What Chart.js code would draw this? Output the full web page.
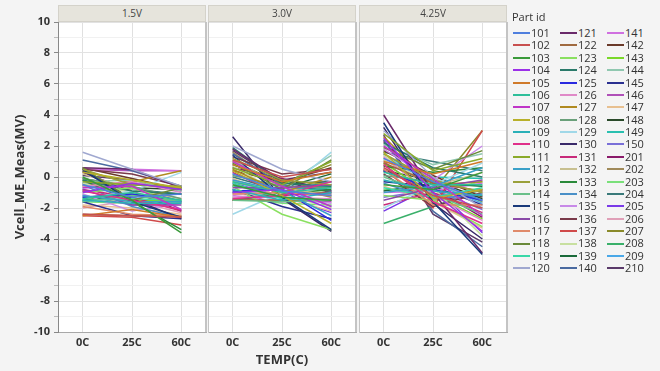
<!DOCTYPE html>
<html>
<head>
<meta charset="utf-8">
<script src="https://cdn.jsdelivr.net/npm/chart.js@4.4.1/dist/chart.umd.min.js"></script>
<style>
  body { margin: 0; background: #f4f4f4; font-family: "Open Sans", sans-serif; }
  #wrap { position: relative; width: 660px; height: 371px; overflow: hidden; }
  .panel { position: absolute; top: 0; }
  .strip { position: absolute; top: 5px; height: 17px; background: #e6e4dc; border: 1px solid #d4d2ca;
           box-sizing: border-box; font-size: 10px; color: #444; text-align: center; line-height: 15px; }
  .leg-title { position: absolute; left: 512px; top: 9px; font-size: 11px; color: #333; }
  .leg-item { position: absolute; font-size: 11px; color: #333; line-height: 12px; }
  .leg-item span { display: inline-block; width: 17px; height: 2px; vertical-align: middle; margin-right: 1px; position: relative; top: -1px; }
</style>
</head>
<body>
<div id="wrap">
  <canvas class="panel" id="p1" width="207" height="371" style="left:0px"></canvas>
  <canvas class="panel" id="p2" width="150" height="371" style="left:207px"></canvas>
  <canvas class="panel" id="p3" width="150" height="371" style="left:358px"></canvas>
  <div class="strip" style="left:58px;width:148px">1.5V</div>
  <div class="strip" style="left:208px;width:148px">3.0V</div>
  <div class="strip" style="left:359px;width:148px">4.25V</div>
  <div class="leg-title">Part id</div>
  <div id="legend"></div>
</div>
<script>
// x categories and the three Vcell panels
const temps = ['0C', '25C', '60C'];
const panels = ['1.5V', '3.0V', '4.25V'];

const partIds = [
  '101','102','103','104','105','106','107','108','109','110',
  '111','112','113','114','115','116','117','118','119','120',
  '121','122','123','124','125','126','127','128','129','130',
  '131','132','133','134','135','136','137','138','139','140',
  '141','142','143','144','145','146','147','148','149','150',
  '201','202','203','204','205','206','207','208','209','210'
];

// 1.5V panel values (one per part id)
const v15_0C = [-0.5,-2.4,0.0,-1.0,-2.5,-1.4,-0.7,0.3,-1.5,-0.9,
  -0.3,-1.2,0.5,-1.6,0.5,-0.8,-1.9,0.6,-1.5,1.6,
  0.6,-2.4,-1.0,-0.2,-1.3,-0.6,-0.6,-0.1,-1.4,0.4,
  -0.8,0.2,-0.2,-0.5,-1.1,0.5,-2.5,-0.4,-1.5,1.1,
  0.5,0.6,-1.4,-0.3,-1.6,0.5,-1.8,-0.1,-0.4,-1.2,
  0.3,-0.5,-1.6,-0.9,-0.4,-2.0,0.4,-1.3,-0.7,0.1];
const v15_25C = [-1.3,-2.5,-1.5,-0.4,-2.1,-1.0,-0.6,-0.2,-1.7,-1.5,
  -0.5,-1.6,-0.5,-1.2,-1.6,-1.8,-2.4,-1.5,-1.4,0.5,
  0.5,-2.5,-0.7,-0.9,-1.1,-0.3,-0.3,-0.6,-0.9,-1.4,
  -1.3,-0.8,-1.6,-1.9,-2.2,0.2,-2.6,-1.0,-1.2,0.4,
  0.5,-0.1,-1.5,-0.2,-2.5,0.4,-2.0,-0.7,-1.2,-1.8,
  -0.9,-0.4,-1.7,-0.8,-0.6,-1.5,-0.4,-1.1,-0.5,-0.2];
const v15_60C = [-1.1,-2.6,-3.6,-0.8,-2.6,-1.5,-2.1,-0.7,-1.7,-2.1,
  -0.7,-1.6,-0.6,-1.6,-2.6,-1.8,-2.5,-0.7,-1.5,-0.6,
  -0.7,-2.5,-1.7,-1.1,-1.6,-1.0,0.4,-1.4,0.3,-2.7,
  -2.2,-1.4,-3.4,-2.6,-1.7,-0.6,-3.1,-1.6,-1.1,-0.6,
  0.4,-0.8,-1.5,-0.9,-2.7,0.4,-2.4,-0.8,-1.5,-1.7,
  -2.2,-0.7,-1.6,-1.1,-1.6,-2.3,-0.7,-1.6,-0.6,-0.9];

// 3.0V panel values
const v30_0C = [0.2,1.1,-0.5,-1.0,0.8,-0.3,1.0,0.4,-0.8,-1.4,
  0.6,-0.2,1.2,-1.5,1.4,-0.7,-1.1,0.9,-0.4,2.0,
  1.8,-1.5,-0.6,1.9,-0.9,-1.3,0.5,0.1,-2.4,2.6,
  0.3,1.0,-1.5,-0.6,-0.2,1.3,-1.5,0.7,-1.0,1.5,
  -1.2,0.4,-0.3,1.1,-0.8,-1.5,-0.1,0.8,-0.6,-1.0,
  0.6,1.6,-1.3,0.0,-0.4,-1.1,1.0,-1.4,0.2,1.7];
const v30_25C = [-0.9,0.0,-1.3,-0.8,-0.3,-1.0,-0.6,-1.2,-1.5,-1.2,
  -0.5,-0.9,-0.2,-1.6,-1.3,-0.7,-1.0,-0.8,-1.4,0.5,
  -0.2,-1.5,-2.4,-0.4,-0.8,-1.3,-1.0,-0.6,-1.0,-1.4,
  -1.2,-0.7,-1.1,-0.9,-1.4,0.2,-1.5,-1.1,-0.7,-0.5,
  -1.6,-0.3,-1.0,-0.6,-1.9,-1.5,-1.3,-0.4,-0.8,-1.1,
  -0.1,-0.6,-1.7,-0.9,-1.2,-1.3,-0.4,-1.0,-0.7,-0.3];
const v30_60C = [-1.2,0.5,-1.5,-2.1,0.3,-0.7,-1.9,-3.0,-1.0,-0.3,
  1.0,-2.5,-0.5,-1.5,-3.4,-0.5,-1.2,1.1,-1.5,-0.3,
  0.3,-1.5,-3.4,-0.6,-2.8,-1.5,0.0,-0.7,1.6,-3.5,
  -1.0,-1.2,-0.8,-0.3,-1.7,0.5,-1.5,-2.0,0.2,-0.9,
  -1.4,0.6,-1.0,1.4,-2.7,-1.6,-2.2,-0.3,-0.6,-1.1,
  -0.9,-1.3,-1.8,-0.5,-2.3,-1.4,0.8,-1.2,-1.9,-1.0];

// 4.25V panel values
const v425_0C = [1.2,0.6,-0.5,2.5,1.0,0.3,2.0,1.6,-0.2,0.8,
  2.8,-1.0,1.5,0.0,3.5,-1.5,0.5,1.9,-0.7,3.0,
  4.0,0.9,-1.2,2.2,0.4,1.3,2.6,0.1,-2.0,3.2,
  -1.8,1.1,0.7,-0.4,1.8,0.2,0.5,1.4,-0.9,2.4,
  -1.0,1.7,0.9,2.1,-0.3,1.0,-0.6,0.4,1.2,-1.3,
  2.3,0.8,-0.8,1.6,-2.2,0.6,0.4,-3.0,1.5,2.7];
const v425_25C = [-0.3,-1.2,-0.8,-1.0,0.2,-0.5,-0.1,-1.4,-0.9,-1.6,
  0.4,-0.6,-0.2,-1.1,-1.6,-0.7,-1.8,0.5,-1.3,0.0,
  -1.0,-0.4,-1.5,0.6,-0.8,-1.2,-0.5,-0.3,-0.5,-1.7,
  -1.0,-0.6,0.3,-1.4,-0.2,-1.9,-2.0,-0.7,-0.4,-2.2,
  -0.9,0.1,-1.1,0.8,-0.6,-1.3,-1.6,-0.2,0.0,-0.8,
  -0.7,-1.5,-0.9,1.0,-0.6,-1.1,-0.9,-1.9,-0.4,-2.4];
const v425_60C = [-1.5,-2.0,0.3,-3.5,1.0,-0.5,-2.5,-0.8,-1.2,-3.0,
  1.2,0.6,-1.0,-2.4,-5.0,-0.2,-1.8,1.7,-0.7,-2.0,
  -4.9,-0.9,-3.2,0.0,-1.5,-2.8,-0.3,-1.6,0.9,-4.0,
  -2.3,0.3,0.6,-1.1,2.0,-1.0,3.0,-3.8,-0.6,-4.5,
  -0.4,-1.3,-2.7,1.5,-1.8,-0.8,-3.3,-1.4,-0.1,-2.1,
  -2.6,-1.2,-0.3,0.4,-3.6,-0.9,3.0,-0.8,-1.7,-4.2];

const partColors = [
  '#4f7fde','#c8504f','#3a9a3a','#9b30e8','#d07a2a','#2fbf9a','#c035c8','#b8b02a','#2ab0b8','#e0308a',
  '#8aaa2a','#3aa0c8','#9aa03a','#6ac08a','#1a3a7a','#8a4aa8','#e08a6a','#6a8a3a','#3ad8a8','#a0a8d0',
  '#6a2a6a','#a06a40','#8ae060','#2a7a6a','#2a2ae0','#e08ac8','#b08a20','#6aa07a','#a0d8e8','#3a2a6a',
  '#c82a7a','#c8c090','#2a8a3a','#4a90c8','#c88ae8','#7a3a4a','#d04a4a','#c8e0a0','#1a6a3a','#4a6aa0',
  '#d070e0','#6a3a2a','#7ad82a','#90c8b0','#2a3090','#b050b8','#e8c090','#2a4a2a','#2ac0b0','#7a70d8',
  '#8a1a6a','#a08a5a','#7ae07a','#3a7a7a','#7a3ae8','#e0a0b8','#8a8a2a','#3ab06a','#4aa8e8','#5a3a6a'
];

// white plot area plus panel frame
const panelFrame = {
  id: 'panelFrame',
  beforeDraw(chart) {
    const { ctx, chartArea: a } = chart;
    ctx.save();
    ctx.fillStyle = '#ffffff';
    ctx.fillRect(a.left, a.top, a.right - a.left, a.bottom - a.top);
    ctx.restore();
  },
  afterDraw(chart) {
    const { ctx, chartArea: a } = chart;
    ctx.save();
    ctx.strokeStyle = '#c4c4c4';
    ctx.lineWidth = 2;
    ctx.beginPath();
    ctx.moveTo(a.right, a.top);
    ctx.lineTo(a.right, a.bottom);
    ctx.stroke();
    ctx.restore();
  }
};

function makePanel(id, first, showTitle, v0, v25, v60) {
  const datasets = partIds.map((p, i) => ({
    label: p,
    data: [v0[i], v25[i], v60[i]],
    borderColor: partColors[i],
    borderWidth: 1.5,
    pointRadius: 0,
    tension: 0,
    fill: false
  }));
  new Chart(document.getElementById(id), {
    type: 'line',
    data: { labels: temps, datasets: datasets },
    plugins: [panelFrame],
    options: {
      responsive: false,
      animation: false,
      events: [],
      layout: { padding: { top: 22, right: 1, left: 0, bottom: 0 } },
      plugins: { legend: { display: false }, tooltip: { enabled: false } },
      scales: {
        x: {
          type: 'category',
          offset: true,
          afterFit: s => { s.height = 39; },
          grid: { offset: false, color: '#e0e0e0', drawTicks: false },
          border: { color: '#a8a8a8' },
          ticks: { padding: 4, color: '#333', font: { family: 'Open Sans', size: 11, weight: 'bold' } },
          title: {
            display: showTitle, text: 'TEMP(C)', color: '#333',
            font: { family: 'Open Sans', size: 13, weight: 'bold' }, padding: { top: 0, bottom: 3 }
          }
        },
        y: {
          min: -10, max: 10,
          afterFit: s => { s.width = first ? 58 : 1; },
          grid: {
            color: c => (c.tick && c.tick.value % 2 === 0) ? '#e2e2e2' : '#f1f1f1',
            tickColor: c => (c.tick && c.tick.value % 2 === 0) ? '#888' : '#bbb',
            tickLength: first ? 4 : 0,
            drawTicks: first
          },
          border: { color: first ? '#888' : '#c4c4c4' },
          ticks: {
            display: first,
            stepSize: 1,
            autoSkip: false,
            padding: 4,
            color: '#333',
            font: { family: 'Open Sans', size: 11, weight: 'bold' },
            callback: v => (v % 2 === 0 ? v : '')
          },
          title: {
            display: first, text: 'Vcell_ME_Meas(MV)', color: '#333',
            font: { family: 'Open Sans', size: 13, weight: 'bold' }, padding: { top: 12, bottom: 0 }
          }
        }
      }
    }
  });
}

makePanel('p1', true, false, v15_0C, v15_25C, v15_60C);
makePanel('p2', false, true, v30_0C, v30_25C, v30_60C);
makePanel('p3', false, false, v425_0C, v425_25C, v425_60C);

// legend: three columns of twenty
const legend = document.getElementById('legend');
const colX = [513, 560, 607];
partIds.forEach((p, i) => {
  const d = document.createElement('div');
  d.className = 'leg-item';
  d.style.left = colX[Math.floor(i / 20)] + 'px';
  d.style.top = (27 + (i % 20) * 12.38) + 'px';
  d.innerHTML = '<span style="background:' + partColors[i] + '"></span>' + p;
  legend.appendChild(d);
});
</script>
</body>
</html>
